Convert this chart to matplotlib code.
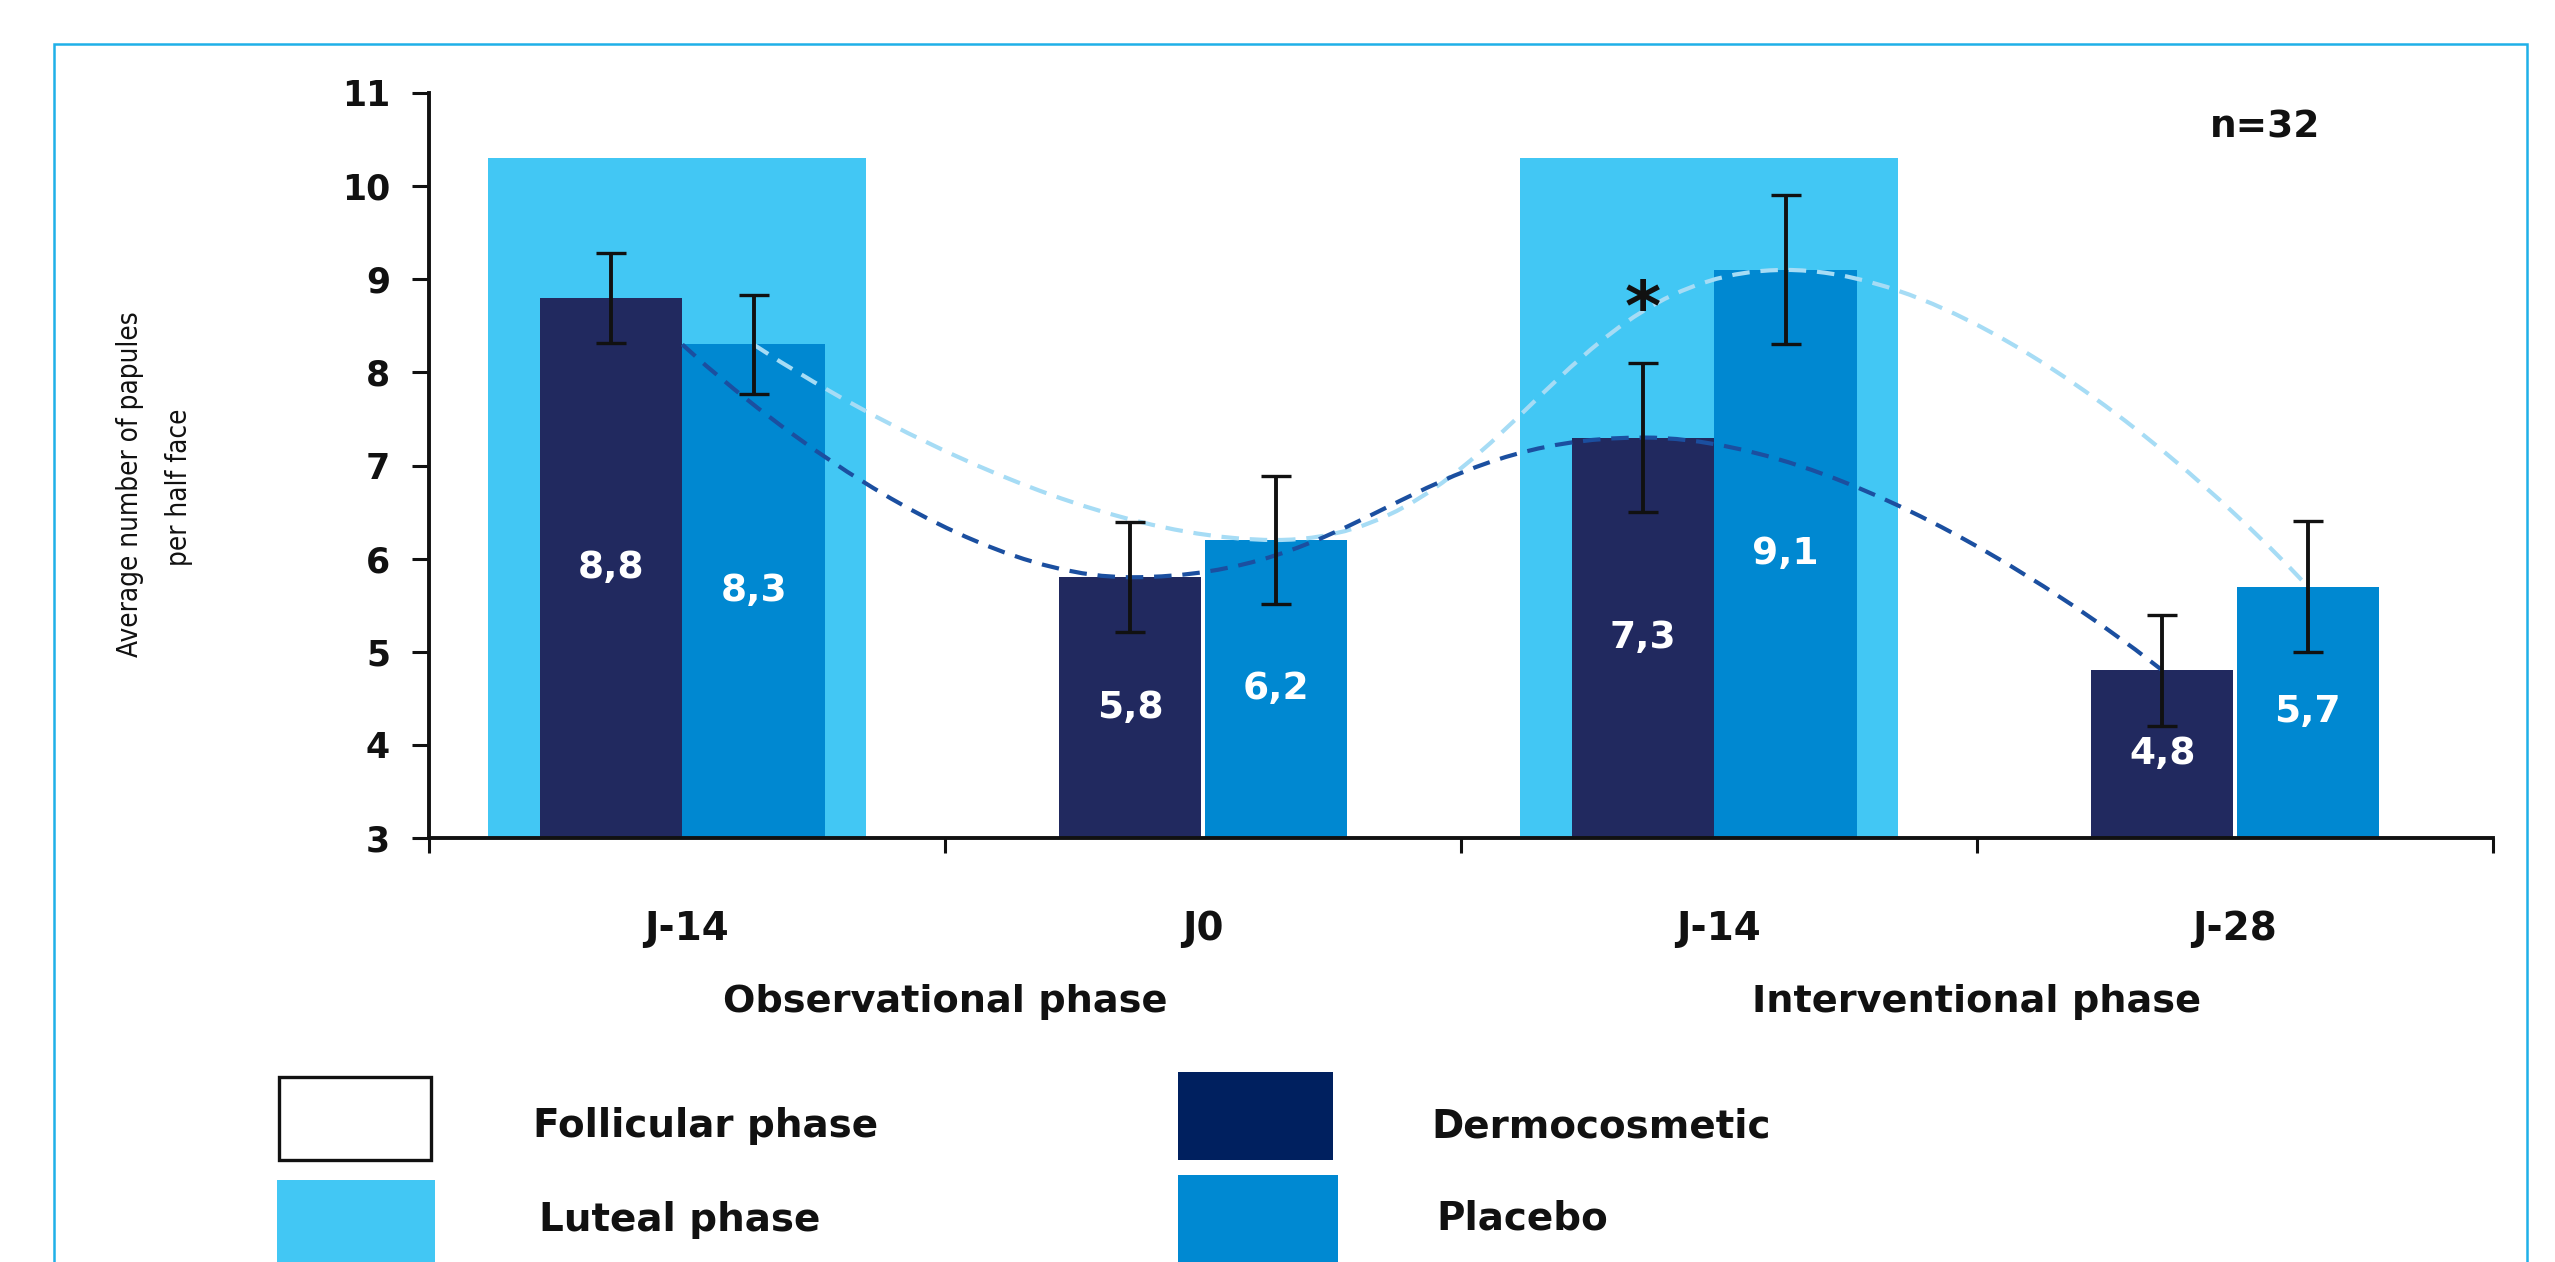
import matplotlib
matplotlib.use("Agg")
import matplotlib.pyplot as plt
from matplotlib.patches import Rectangle, PathPatch
from matplotlib.path import Path
from matplotlib import font_manager as fm
import matplotlib.transforms as mtransforms

# ---------------- data ----------------
categories = ["J-14", "J0", "J-14", "J-28"]
phase_labels = ["Observational phase", "Interventional phase"]
cycle_phase = ["Luteal", "Follicular", "Luteal", "Follicular"]
luteal_height = 10.3
dermo = [8.8, 5.8, 7.3, 4.8]
dermo_err = [0.48, 0.59, 0.80, 0.60]
placebo = [8.3, 6.2, 9.1, 5.7]
placebo_err = [0.53, 0.69, 0.80, 0.70]
dermo_trend = [8.3, 5.8, 7.3, 4.8]
placebo_trend = [8.3, 6.2, 9.1, 5.7]
dermo_labels = ["8,8", "5,8", "7,3", "4,8"]
placebo_labels = ["8,3", "6,2", "9,1", "5,7"]
y_ticks = [3, 4, 5, 6, 7, 8, 9, 10, 11]
n_label = "n=32"
legend_labels = ["Follicular phase", "Luteal phase", "Dermocosmetic", "Placebo"]

# ---------------- style ----------------
C_LUTEAL = "#42C7F4"
C_DERMO = "#21295F"
C_PLACEBO = "#0088D1"
C_DERMO_LEG = "#00205F"
C_PLACEBO_LEG = "#0089D2"
C_DARK_DASH = "#1B4FA0"
C_LIGHT_DASH = "#A6DCF5"
C_BORDER = "#1FB0E8"
C_TEXT = "#111111"

plt.rcParams["font.family"] = ["DejaVu Sans"]

W, H = 2555, 1262
fig = plt.figure(figsize=(W / 100, H / 100), dpi=100)

# condensed font for the y label, if one is installed
def find_condensed():
    prefs = []
    for f in fm.fontManager.ttflist:
        name = f.fname
        if ("Condensed" in name or "Narrow" in name) and f.style == "normal" \
                and f.weight in (400, "normal", "regular", "book") and "Mono" not in name \
                and "Serif" not in name:
            score = 0
            if "DejaVuSansCondensed" in name:
                score = 3
            elif "LiberationSansNarrow" in name:
                score = 2
            prefs.append((score, name))
    if not prefs:
        return None
    prefs.sort(reverse=True)
    return prefs[0][1]

cond_path = find_condensed()
if cond_path:
    ylab_fp = fm.FontProperties(fname=cond_path, size=20)
else:
    ylab_fp = fm.FontProperties(family="DejaVu Sans", size=17.5)

# frame border
fig.add_artist(Rectangle((54 / W, -0.05), (2527 - 54) / W, (H - 44) / H + 0.05,
                         transform=fig.transFigure, fill=False,
                         edgecolor=C_BORDER, linewidth=1.8))

ax = fig.add_axes([429 / W, 1 - 838 / H, (2493 - 429) / W, (838 - 93) / H])
ax.set_xlim(0, 4)
ax.set_ylim(3, 11)
for s in ["top", "right"]:
    ax.spines[s].set_visible(False)
for s in ["left", "bottom"]:
    ax.spines[s].set_linewidth(2.8)
    ax.spines[s].set_color(C_TEXT)

ax.set_yticks(y_ticks)
ax.set_yticklabels([str(t) for t in y_ticks], fontsize=25, fontweight="bold", color=C_TEXT)
ax.tick_params(axis="y", direction="out", length=12, width=2.2, pad=16, colors=C_TEXT)
ax.set_xticks(range(len(categories) + 1))
ax.set_xticklabels([])
ax.tick_params(axis="x", direction="out", length=11, width=2.2, colors=C_TEXT)

w = 0.276
centers = [i + 0.5 for i in range(len(categories))]
d_x, p_x = [], []
for c, ph in zip(centers, cycle_phase):
    if ph == "Luteal":
        shift, gap = -0.009, 0.0
    else:
        shift, gap = 0.0, 0.006
    d_x.append(c + shift - gap / 2 - w / 2)
    p_x.append(c + shift + gap / 2 + w / 2)

# luteal background
for c, ph in zip(centers, cycle_phase):
    if ph == "Luteal":
        ax.bar(c - 0.02, luteal_height - 3, bottom=3, width=0.733,
               color=C_LUTEAL, zorder=1, linewidth=0)

ax.bar(d_x, [v - 3 for v in dermo], bottom=3, width=w, color=C_DERMO, zorder=2, linewidth=0)
ax.bar(p_x, [v - 3 for v in placebo], bottom=3, width=w, color=C_PLACEBO, zorder=2, linewidth=0)

# smooth dashed trend curves (cubic Bezier with horizontal handles at turning points)
def trend_path(xs, ys, k=0.45):
    verts = [(xs[0], ys[0])]
    codes = [Path.MOVETO]
    n = len(xs)
    for i in range(n - 1):
        x0, y0, x1, y1 = xs[i], ys[i], xs[i + 1], ys[i + 1]
        dx = x1 - x0
        c1 = (x0, y0) if i == 0 else (x0 + k * dx, y0)
        c2 = (x1, y1) if i == n - 2 else (x1 - k * dx, y1)
        verts += [c1, c2, (x1, y1)]
        codes += [Path.CURVE4] * 3
    return Path(verts, codes)

dx_nodes = [d_x[0] + w / 2] + d_x[1:]
ax.add_patch(PathPatch(trend_path(p_x, placebo_trend), fill=False, edgecolor=C_LIGHT_DASH,
                       linewidth=3.0, linestyle=(0, (4.2, 2.6)), zorder=3))
ax.add_patch(PathPatch(trend_path(dx_nodes, dermo_trend), fill=False, edgecolor=C_DARK_DASH,
                       linewidth=3.0, linestyle=(0, (4.2, 2.6)), zorder=3))

# error bars
ax.errorbar(d_x, dermo, yerr=dermo_err, fmt="none", ecolor=C_TEXT, elinewidth=2.8,
            capsize=11, capthick=2.4, zorder=4)
ax.errorbar(p_x, placebo, yerr=placebo_err, fmt="none", ecolor=C_TEXT, elinewidth=2.8,
            capsize=11, capthick=2.4, zorder=4)

# value labels
for x, v, t in zip(d_x, dermo, dermo_labels):
    ax.text(x, (3 + v) / 2, t, ha="center", va="center", color="white",
            fontsize=27, fontweight="bold", zorder=5)
for x, v, t in zip(p_x, placebo, placebo_labels):
    ax.text(x, (3 + v) / 2, t, ha="center", va="center", color="white",
            fontsize=27, fontweight="bold", zorder=5)

# significance star and n
ax.text(d_x[2], dermo[2] + dermo_err[2] + 0.36, "*", ha="center", va="baseline",
        fontsize=50, fontweight="bold", color=C_TEXT, zorder=5)
ax.text(3.558, 10.63, n_label, ha="center", va="center", fontsize=27,
        fontweight="bold", color=C_TEXT)

# category and phase labels
trans = mtransforms.blended_transform_factory(ax.transData, ax.transAxes)
for c, lab in zip(centers, categories):
    ax.text(c, -0.122, lab, transform=trans, ha="center", va="center",
            fontsize=28, fontweight="bold", color=C_TEXT)
for xp, lab in zip([1.0, 3.0], phase_labels):
    ax.text(xp, -0.220, lab, transform=trans, ha="center", va="center",
            fontsize=27.5, fontweight="bold", color=C_TEXT)

# y label
fig.text(130 / W, 1 - 484 / H, "Average number of papules", rotation=90,
         ha="center", va="center", fontproperties=ylab_fp, color=C_TEXT)
fig.text(179 / W, 1 - 487 / H, "per half face", rotation=90,
         ha="center", va="center", fontproperties=ylab_fp, color=C_TEXT)

# legend (manual)
def swatch(x0, y0, x1, y1, face, edge=None, lw=0):
    fig.add_artist(Rectangle((x0 / W, 1 - y1 / H), (x1 - x0) / W, (y1 - y0) / H,
                             transform=fig.transFigure, facecolor=face,
                             edgecolor=edge if edge else face, linewidth=lw))

swatch(279, 1077, 431, 1160, "white", C_TEXT, 2.4)
swatch(277, 1180, 435, 1290, C_LUTEAL)
swatch(1178, 1072, 1333, 1160, C_DERMO_LEG)
swatch(1178, 1175, 1338, 1290, C_PLACEBO_LEG)

leg_pos = [(533, 1126), (539, 1220), (1431, 1126), (1436, 1219)]
for (lx, ly), lab in zip(leg_pos, legend_labels):
    fig.text(lx / W, 1 - ly / H, lab, ha="left", va="center", fontsize=28,
             fontweight="bold", color=C_TEXT)

fig.savefig("out.png", dpi=100)
